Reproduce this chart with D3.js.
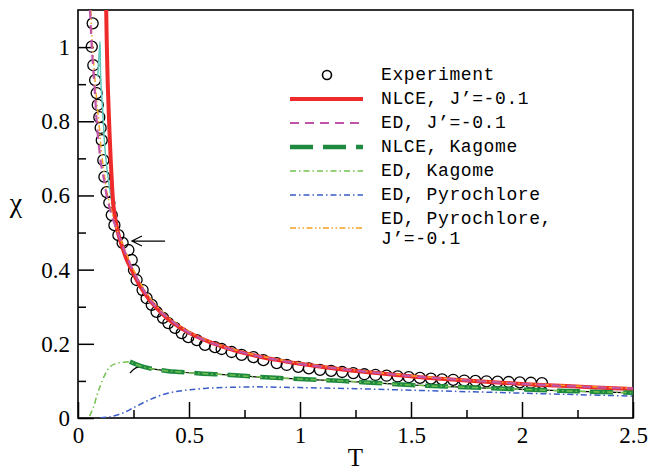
<!DOCTYPE html>
<html>
<head>
<meta charset="utf-8">
<script src="https://cdn.jsdelivr.net/npm/d3@7"></script>
<style>
  body { margin: 0; background: #fff; }
</style>
</head>
<body>
<div id="chart"></div>
<script>
// experiment (T, chi)
const expT = [0.066,0.062,0.069,0.077,0.084,0.089,0.096,0.102,0.107,0.114,0.119,0.129,0.141,0.152,0.164,0.182,0.201,
  0.227,0.242,0.252,0.264,0.291,0.309,0.332,0.354,0.383,0.407,0.437,0.467,0.497,0.535,0.572,0.617,0.647,0.692,0.737,0.790,0.835,0.895,0.940,0.992,
  1.04,1.09,1.14,1.19,1.24,1.29,1.34,1.39,1.44,1.49,1.54,1.59,1.64,1.69,1.74,1.79,1.84,1.89,1.94,1.99,2.04,2.09];
const expChi = [1.064,1.001,0.951,0.911,0.876,0.844,0.811,0.782,0.749,0.695,0.650,0.609,0.580,0.547,0.520,0.493,0.472,
  0.453,0.426,0.399,0.372,0.345,0.323,0.305,0.286,0.270,0.256,0.243,0.229,0.218,0.210,0.197,0.191,0.186,0.178,0.170,0.164,0.156,0.148,0.143,0.138,
  0.134,0.130,0.127,0.124,0.121,0.118,0.116,0.114,0.112,0.110,0.108,0.106,0.104,0.103,0.101,0.100,0.099,0.098,0.097,0.096,0.095,0.094];

// NLCE, J'=-0.1
const nlceJT   = [0.127,0.130,0.134,0.140,0.147,0.154,0.160,0.170,0.180,0.20,0.22,0.25,0.28,0.32,0.36,0.40,0.45,0.50,0.60,0.70,0.80,0.90,1.0,1.2,1.4,1.6,1.8,2.0,2.2,2.5];
const nlceJChi = [1.10,1.00,0.90,0.80,0.70,0.62,0.57,0.53,0.50,0.46,0.426,0.39,0.355,0.32,0.293,0.27,0.248,0.23,0.203,0.183,0.168,0.156,0.146,0.130,0.118,0.107,0.099,0.092,0.086,0.078];

// ED, J'=-0.1
const edJT   = [0.054,0.058,0.062,0.070,0.078,0.084,0.095,0.105,0.118,0.129,0.15,0.18,0.21,0.25,0.30,0.35,0.40,0.50,0.60,0.70,0.80,1.0,1.2,1.5,2.0,2.5];
const edJChi = [1.10,1.05,1.00,0.93,0.86,0.80,0.73,0.68,0.64,0.60,0.55,0.498,0.45,0.395,0.34,0.30,0.272,0.23,0.203,0.183,0.168,0.146,0.131,0.113,0.092,0.079];

// NLCE, Kagome
const nlceKT   = [0.234,0.26,0.30,0.35,0.40,0.46,0.55,0.685,0.80,1.0,1.15,1.3,1.5,1.7,2.0,2.25,2.5];
const nlceKChi = [0.152,0.145,0.137,0.131,0.127,0.124,0.120,0.116,0.111,0.105,0.101,0.096,0.089,0.084,0.077,0.072,0.068];

// ED, Kagome
const edKT   = [0.052,0.07,0.085,0.099,0.12,0.144,0.17,0.20,0.234,0.26,0.30,0.35,0.40,0.46,0.55,0.685,0.80,1.0,1.15,1.3,1.5,1.7,2.0,2.25,2.5];
const edKChi = [0.005,0.03,0.06,0.084,0.115,0.138,0.147,0.150,0.151,0.145,0.137,0.131,0.127,0.124,0.120,0.116,0.111,0.105,0.101,0.096,0.089,0.084,0.077,0.072,0.068];

// ED, Pyrochlore
const edPT   = [0.10,0.15,0.20,0.248,0.30,0.35,0.40,0.45,0.505,0.60,0.70,0.80,0.90,1.0,1.25,1.5,1.75,2.0,2.25,2.5];
const edPChi = [0.0,0.004,0.013,0.027,0.043,0.056,0.066,0.072,0.076,0.081,0.083,0.084,0.083,0.082,0.079,0.075,0.071,0.067,0.063,0.059];

// ED, Pyrochlore, J'=-0.1
const edPJT   = [0.058,0.062,0.066,0.075,0.085,0.095,0.105,0.118,0.13,0.15,0.18,0.21,0.25,0.30,0.35,0.40,0.50,0.60,0.70,0.80,1.0,1.2,1.5,2.0,2.5];
const edPJChi = [1.10,1.03,1.00,0.92,0.85,0.79,0.72,0.66,0.61,0.56,0.50,0.455,0.40,0.345,0.305,0.275,0.233,0.205,0.185,0.17,0.148,0.132,0.114,0.093,0.08];

// unlabeled curves
const cyanT   = [0.089,0.099,0.102,0.111,0.122,0.135,0.15,0.17,0.20,0.25,0.30,0.35,0.45,0.6];
const cyanChi = [0.92,1.015,0.92,0.83,0.722,0.65,0.59,0.53,0.465,0.392,0.338,0.30,0.248,0.203];
const blackT   = [0.234,0.25,0.27,0.30,0.35,0.40,0.46,0.55,0.685,0.80,1.0,1.15,1.3,1.5,1.7,2.0,2.25,2.5];
const blackChi = [0.121,0.131,0.137,0.136,0.131,0.127,0.124,0.120,0.116,0.111,0.105,0.101,0.096,0.089,0.084,0.077,0.072,0.068];

// arrow (T, chi): tail -> head
const arrowT = [0.392, 0.243];
const arrowChi = [0.477, 0.477];

const xTicks = [0, 0.5, 1, 1.5, 2, 2.5];
const xMinor = [0.25, 0.75, 1.25, 1.75, 2.25];
const yTicks = [0, 0.2, 0.4, 0.6, 0.8, 1];
const yMinor = [0.1, 0.3, 0.5, 0.7, 0.9];

const zip = (a, b) => a.map((v, i) => [v, b[i]]);

const series = [
  {name: 'cyan', data: zip(cyanT, cyanChi), color: '#5fc9bb', width: 1.5, dash: null},
  {name: 'NLCE, J\u2019=-0.1', data: zip(nlceJT, nlceJChi), color: '#ee2a2a', width: 4, dash: null, legend: 1},
  {name: 'ED, Pyrochlore, J\u2019=-0.1', data: zip(edPJT, edPJChi), color: '#f4a324', width: 1.5, dash: '6,2.5,1.5,2.5,1.5,2.5', legend: 6},
  {name: 'ED, J\u2019=-0.1', data: zip(edJT, edJChi), color: '#c254a8', width: 2.2, dash: '9,6', legend: 2},
  {name: 'ED, Pyrochlore', data: zip(edPT, edPChi), color: '#3a5cc6', width: 1.5, dash: '6,3,1.5,3', legend: 5},
  {name: 'black', data: zip(blackT, blackChi), color: '#000', width: 1.2, dash: null},
  {name: 'NLCE, Kagome', data: zip(nlceKT, nlceKChi), color: '#1e8a40', width: 4.5, dash: '23,10', legend: 3},
  {name: 'ED, Kagome', data: zip(edKT, edKChi), color: '#72c24e', width: 1.5, dash: '6,3,1.5,3', legend: 4}
];

const SERIF = '"Liberation Serif", "Times New Roman", serif';
const MONO = '"Liberation Mono", "Courier New", monospace';

const W = 651, H = 470;
const margin = {top: 10, right: 18, bottom: 52, left: 78};
const width = W - margin.left - margin.right;
const height = H - margin.top - margin.bottom;

const svg = d3.select('#chart').append('svg').attr('width', W).attr('height', H);
const g = svg.append('g').attr('transform', `translate(${margin.left},${margin.top})`);

const x = d3.scaleLinear([0, 2.5], [0, width]);
const y = d3.scaleLinear([0, 1.1], [height, 0]);

g.append('clipPath').attr('id', 'clip').append('rect').attr('width', width).attr('height', height);

function styleAxis(a) {
  a.attr('font-family', null).attr('font-size', null);
  a.select('.domain').remove();
  a.selectAll('line').attr('stroke', '#000').attr('stroke-width', 1.5);
  a.selectAll('text').attr('fill', '#000').style('font-family', SERIF).style('font-size', '23px');
}

//axes (ticks inward)
g.append('g').attr('transform', `translate(0,${height})`)
  .call(d3.axisBottom(x).tickValues(xTicks).tickFormat(d3.format('')).tickSizeInner(-16).tickSizeOuter(0).tickPadding(9))
  .call(styleAxis);
g.append('g').attr('transform', `translate(0,${height})`)
  .call(d3.axisBottom(x).tickValues(xMinor).tickFormat('').tickSizeInner(-8).tickSizeOuter(0))
  .call(styleAxis);
g.append('g')
  .call(d3.axisLeft(y).tickValues(yTicks).tickFormat(d3.format('')).tickSizeInner(-16).tickSizeOuter(0).tickPadding(8))
  .call(styleAxis);
g.append('g')
  .call(d3.axisLeft(y).tickValues(yMinor).tickFormat('').tickSizeInner(-8).tickSizeOuter(0))
  .call(styleAxis);

// frame
g.append('rect').attr('width', width).attr('height', height)
  .attr('fill', 'none').attr('stroke', '#000').attr('stroke-width', 1.6);

// axis titles
svg.append('text').attr('x', margin.left + width / 2).attr('y', 466)
  .attr('text-anchor', 'middle').style('font-family', SERIF).style('font-size', '25px').text('T');
svg.append('text').attr('x', 16).attr('y', 212)
  .attr('text-anchor', 'middle').style('font-family', SERIF).style('font-size', '28px').text('\u03c7');

const plot = g.append('g').attr('clip-path', 'url(#clip)');

// experiment circles
plot.append('g').selectAll('circle').data(zip(expT, expChi)).join('circle')
  .attr('cx', d => x(d[0])).attr('cy', d => y(d[1])).attr('r', 5.5)
  .attr('fill', 'none').attr('stroke', '#000').attr('stroke-width', 1.3);

const lineX = d3.line().x(d => x(d[0])).y(d => y(d[1])).curve(d3.curveCatmullRom);

plot.selectAll('.series').data(series).join('path').attr('class', 'series')
  .attr('d', d => lineX(d.data))
  .attr('fill', 'none').attr('stroke', d => d.color).attr('stroke-width', d => d.width)
  .attr('stroke-dasharray', d => d.dash);

// arrow
const aTail = [x(arrowT[0]), y(arrowChi[0])], aHead = [x(arrowT[1]), y(arrowChi[1])];
g.append('path').attr('d', `M${aTail[0]},${aTail[1]}L${aHead[0]},${aHead[1]}M${aHead[0] + 10},${aHead[1] - 5}L${aHead[0]},${aHead[1]}L${aHead[0] + 10},${aHead[1] + 5}`)
  .attr('fill', 'none').attr('stroke', '#000').attr('stroke-width', 1.2);

// legend
const legend = svg.append('g');
const lx0 = 290, lx1 = 363, tx = 381, ly0 = 75, dy = 24;
const legText = (xx, yy, t) => legend.append('text').attr('x', xx).attr('y', yy)
  .style('font-family', MONO).style('font-size', '18px').style('letter-spacing', '0.6px').text(t);
legend.append('circle').attr('cx', 327).attr('cy', ly0).attr('r', 4.5)
  .attr('fill', 'none').attr('stroke', '#000').attr('stroke-width', 1.6);
legText(tx, ly0 + 5, 'Experiment');
series.filter(s => s.legend).forEach(s => {
  const yy = ly0 + s.legend * dy + (s.legend === 6 ? 9 : 0);
  legend.append('line').attr('x1', lx0).attr('x2', lx1).attr('y1', yy).attr('y2', yy)
    .attr('stroke', s.color).attr('stroke-width', s.width).attr('stroke-dasharray', s.dash);
  if (s.legend === 6) {
    legText(tx, ly0 + 6 * dy + 5, 'ED, Pyrochlore,');
    legText(tx, ly0 + 7 * dy + 1, 'J\u2019=-0.1');
  } else {
    legText(tx, yy + 5, s.name);
  }
});
</script>
</body>
</html>
